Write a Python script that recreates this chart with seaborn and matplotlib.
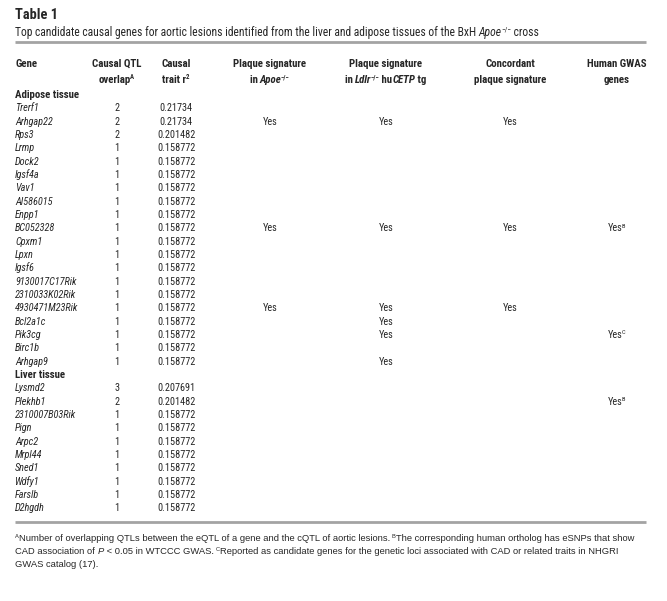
"""Table 1: top candidate causal genes for aortic lesions (BxH Apoe-/- cross)."""

import matplotlib

matplotlib.use("Agg")
import matplotlib.pyplot as plt
import seaborn as sns
from matplotlib import font_manager

# ---- table content -------------------------------------------------------
ADIPOSE_GENES = [
    "Trerf1", "Arhgap22", "Rps3", "Lrmp", "Dock2", "Igsf4a", "Vav1",
    "AI586015", "Enpp1", "BC052328", "Cpxm1", "Lpxn", "Igsf6",
    "9130017C17Rik", "2310033K02Rik", "4930471M23Rik", "Bcl2a1c",
    "Pik3cg", "Birc1b", "Arhgap9",
]
ADIPOSE_QTL = [2, 2, 2, 1, 1, 1, 1, 1, 1, 1, 1, 1, 1, 1, 1, 1, 1, 1, 1, 1]
ADIPOSE_R2 = [
    "0.21734", "0.21734", "0.201482", "0.158772", "0.158772", "0.158772",
    "0.158772", "0.158772", "0.158772", "0.158772", "0.158772", "0.158772",
    "0.158772", "0.158772", "0.158772", "0.158772", "0.158772", "0.158772",
    "0.158772", "0.158772",
]
ADIPOSE_APOE = ["", "Yes", "", "", "", "", "", "", "", "Yes",
                "", "", "", "", "", "Yes", "", "", "", ""]
ADIPOSE_LDLR = ["", "Yes", "", "", "", "", "", "", "", "Yes",
                "", "", "", "", "", "Yes", "Yes", "Yes", "", "Yes"]
ADIPOSE_CONC = ["", "Yes", "", "", "", "", "", "", "", "Yes",
                "", "", "", "", "", "Yes", "", "", "", ""]
ADIPOSE_GWAS = ["", "", "", "", "", "", "", "", "", "Yes^B",
                "", "", "", "", "", "", "", "Yes^C", "", ""]

LIVER_GENES = [
    "Lysmd2", "Plekhb1", "2310007B03Rik", "Pign", "Arpc2", "Mrpl44",
    "Sned1", "Wdfy1", "Farslb", "D2hgdh",
]
LIVER_QTL = [3, 2, 1, 1, 1, 1, 1, 1, 1, 1]
LIVER_R2 = [
    "0.207691", "0.201482", "0.158772", "0.158772", "0.158772",
    "0.158772", "0.158772", "0.158772", "0.158772", "0.158772",
]
LIVER_APOE = [""] * 10
LIVER_LDLR = [""] * 10
LIVER_CONC = [""] * 10
LIVER_GWAS = ["", "Yes^B", "", "", "", "", "", "", "", ""]

SECTIONS = ["Adipose tissue", "Liver tissue"]

# rich text runs: (text, style, weight, superscript)
TITLE = [("Table 1", "normal", "bold", False)]
SUBTITLE = [
    ("Top candidate causal genes for aortic lesions identified from the liver "
     "and adipose tissues of the BxH ", "normal", "normal", False),
    ("Apoe", "italic", "normal", False),
    ("\u2212/\u2212", "normal", "normal", True),
    (" cross", "normal", "normal", False),
]
HEADER_1 = ["Gene", "Causal QTL", "Causal", "Plaque signature", "Plaque signature",
            "Concordant", "Human GWAS"]
HEADER_2 = [
    [],
    [("overlap", "normal", "bold", False), ("A", "normal", "bold", True)],
    [("trait r", "normal", "bold", False), ("2", "normal", "bold", True)],
    [("in ", "normal", "bold", False), ("Apoe", "italic", "bold", False),
     ("\u2212/\u2212", "normal", "bold", True)],
    [("in ", "normal", "bold", False), ("Ldlr", "italic", "bold", False),
     ("\u2212/\u2212", "normal", "bold", True), (" hu", "normal", "bold", False),
     ("CETP", "italic", "bold", False), (" tg", "normal", "bold", False)],
    [("plaque signature", "normal", "bold", False)],
    [("genes", "normal", "bold", False)],
]
NOTES = [
    [("A", "normal", "normal", True),
     ("Number of overlapping QTLs between the eQTL of a gene and the cQTL of aortic "
      "lesions. ", "normal", "normal", False),
     ("B", "normal", "normal", True),
     ("The corresponding human ortholog has eSNPs that show", "normal", "normal", False)],
    [("CAD association of ", "normal", "normal", False), ("P", "italic", "normal", False),
     (" < 0.05 in WTCCC GWAS. ", "normal", "normal", False),
     ("C", "normal", "normal", True),
     ("Reported as candidate genes for the genetic loci associated with CAD or "
      "related traits in NHGRI", "normal", "normal", False)],
    [("GWAS catalog (17).", "normal", "normal", False)],
]

# ---- layout (pixel units, figure is 667 x 601) ---------------------------
W, H = 667, 601
COL_X = [15, 117, 176, 270, 386, 510, 617]
ROW0, ROW_DY = 98, 13.33
LINE_COLOR = "#a3a3a3"


def pick_condensed():
    names = {}
    for f in font_manager.fontManager.ttflist:
        cond = ("Narrow" in f.name or "Condensed" in f.name
                or "condensed" in str(f.stretch))
        if cond:
            names.setdefault(f.name, set()).add(str(f.stretch))
    for pref in ["Liberation Sans Narrow", "Roboto Condensed", "Noto Sans",
                 "Noto Sans Condensed", "Open Sans Condensed", "Open Sans",
                 "DejaVu Sans Condensed", "DejaVu Sans"]:
        if pref in names:
            st = "condensed" if "condensed" in names[pref] else "normal"
            return pref, st
    if names:
        n = sorted(names)[0]
        return n, ("condensed" if "condensed" in names[n] else "normal")
    return "Liberation Sans", "normal"


class Writer:
    def __init__(self, fig, ax, family, stretch):
        self.fig, self.ax = fig, ax
        self.family, self.stretch = family, stretch
        self.ren = fig.canvas.get_renderer()

    def _props(self, style, weight, family=None, stretch=None):
        return dict(fontfamily=family or self.family,
                    fontstretch=stretch or self.stretch,
                    fontstyle=style, fontweight=weight)

    def width(self, s, size, style="normal", weight="normal", family=None, stretch=None):
        p = self._props(style, weight, family, stretch)
        a = self.ax.text(0, 0, "|" + s + "|", fontsize=size, **p)
        b = self.ax.text(0, 0, "||", fontsize=size, **p)
        w = a.get_window_extent(self.ren).width - b.get_window_extent(self.ren).width
        a.remove()
        b.remove()
        return w

    def runs_width(self, runs, size, family=None, stretch=None):
        return sum(self.width(s, size * (0.62 if sup else 1), st, wt, family, stretch)
                   for s, st, wt, sup in runs)

    def fit(self, runs, target, family=None, stretch=None):
        return 10 * target / self.runs_width(runs, 10, family, stretch)

    def rich(self, x, y, runs, size, ha="left", family=None, stretch=None):
        total = self.runs_width(runs, size, family, stretch)
        x0 = x - total / 2 if ha == "center" else x
        prev_sup = True
        for s, st, wt, sup in runs:
            fs = size * (0.62 if sup else 1)
            yy = y - size * 100 / 72 * 0.36 if sup else y
            if sup and not prev_sup:
                x0 -= 0.8
            self.ax.text(x0, yy, s, fontsize=fs, va="baseline",
                         **self._props(st, wt, family, stretch))
            x0 += self.width(s, fs, st, wt, family, stretch)
            prev_sup = sup


def main():
    sns.set_theme(style="white")
    family, stretch = pick_condensed()
    plt.rcParams["font.family"] = [family, "DejaVu Sans"]

    fig = plt.figure(figsize=(W / 100, H / 100), dpi=100)
    ax = fig.add_axes([0, 0, 1, 1])
    ax.set_xlim(0, W)
    ax.set_ylim(H, 0)
    ax.axis("off")
    wr = Writer(fig, ax, family, stretch)

    body = wr.fit([("0.158772", "normal", "normal", False)], 38)
    head = wr.fit([("Plaque signature", "normal", "bold", False)], 74)
    title = wr.fit(TITLE, 43)
    sub = wr.fit(SUBTITLE, 524)
    note = wr.fit(NOTES[0], 620, family="Liberation Sans", stretch="normal")

    # title block
    wr.rich(15, 19, TITLE, title)
    wr.rich(15, 36, SUBTITLE, sub)
    ax.plot([15, 646], [42, 42], color=LINE_COLOR, lw=2, solid_capstyle="butt")

    # column headers
    for i, (a, b) in enumerate(zip(HEADER_1, HEADER_2)):
        ha = "left" if i == 0 else "center"
        ax.text(COL_X[i], 67, a, fontsize=head, fontweight="bold", ha=ha, va="baseline",
                fontstretch=stretch)
        if b:
            wr.rich(COL_X[i], 83, b, head, ha=ha)

    blocks = [
        (ADIPOSE_GENES, ADIPOSE_QTL, ADIPOSE_R2, ADIPOSE_APOE, ADIPOSE_LDLR, ADIPOSE_CONC, ADIPOSE_GWAS),
        (LIVER_GENES, LIVER_QTL, LIVER_R2, LIVER_APOE, LIVER_LDLR, LIVER_CONC, LIVER_GWAS),
    ]
    row = 0
    for section, cols in zip(SECTIONS, blocks):
        y = ROW0 + row * ROW_DY
        ax.text(COL_X[0], y, section, fontsize=head, fontweight="bold", va="baseline",
                fontstretch=stretch)
        row += 1
        for vals in zip(*cols):
            y = ROW0 + row * ROW_DY
            ax.text(COL_X[0], y, vals[0], fontsize=body, fontstyle="italic", va="baseline",
                    fontstretch=stretch)
            ax.text(COL_X[1], y, str(vals[1]), fontsize=body, ha="center", va="baseline",
                    fontstretch=stretch)
            ax.text(COL_X[2], y, vals[2], fontsize=body, ha="center", va="baseline",
                    fontstretch=stretch)
            for j, v in enumerate(vals[3:], start=3):
                if not v:
                    continue
                if "^" in v:
                    base, sup = v.split("^")
                    wr.rich(COL_X[j], y, [(base, "normal", "normal", False),
                                          (sup, "normal", "normal", True)], body, ha="center")
                else:
                    ax.text(COL_X[j], y, v, fontsize=body, ha="center", va="baseline",
                            fontstretch=stretch)
            row += 1

    y_end = ROW0 + (row - 1) * ROW_DY
    ax.plot([15, 646], [y_end + 11, y_end + 11], color=LINE_COLOR, lw=2, solid_capstyle="butt")

    for k, runs in enumerate(NOTES):
        wr.rich(15, y_end + 30 + k * 13, runs, note, family="Liberation Sans", stretch="normal")

    fig.savefig("out.png", dpi=100, facecolor="white")
    plt.close(fig)


if __name__ == "__main__":
    main()
